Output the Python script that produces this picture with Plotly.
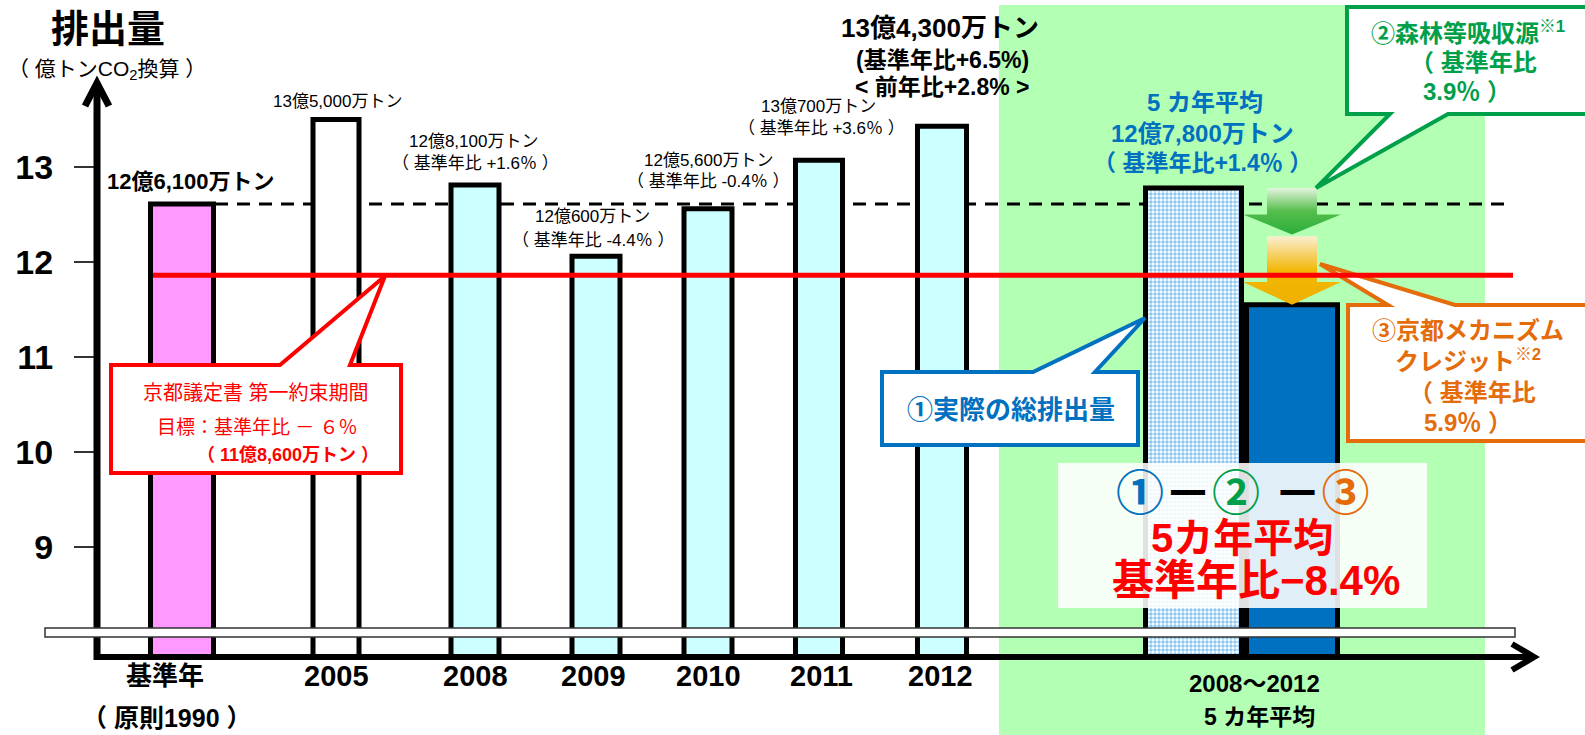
import plotly.graph_objects as go

# ---------------- data ----------------
YEARS = ["基準年", "2005", "2008", "2009", "2010", "2011", "2012"]
YEAR_SUB = ["（ 原則1990 ）", "", "", "", "", "", ""]
EMISSIONS = [12.61, 13.50, 12.81, 12.06, 12.56, 13.07, 13.43]   # 億トンCO2
VALUE_LABELS = ["12億6,100万トン", "13億5,000万トン", "12億8,100万トン", "12億600万トン",
                "12億5,600万トン", "13億700万トン", "13億4,300万トン"]
RATIO_LABELS = ["", "", "（ 基準年比 +1.6％ ）", "（ 基準年比 -4.4％ ）", "（ 基準年比 -0.4％ ）",
                "（ 基準年比 +3.6％ ）", "(基準年比+6.5%)"]
LATEST_EXTRA = "< 前年比+2.8% >"

AVG_LABEL = "2008～2012"
AVG_SUB = "5 カ年平均"
AVG_TOTAL = 12.78        # 5カ年平均 実際の総排出量
AVG_SINK = 0.49          # 森林等吸収源 (基準年比3.9%)
AVG_CREDIT = 0.74        # 京都メカニズムクレジット (基準年比5.9%)
AVG_NET = 11.55          # ①-②-③
TARGET = 11.86           # 京都議定書 目標 (基準年比-6%)
Y_TICKS = [9, 10, 11, 12, 13]

# ---------------- layout constants (pixels) ----------------
W, H = 1585, 735
L, B = 97, 658                 # plot-area left edge / bottom edge in pixels
PX_PER_UNIT, Y12_PIX = 95, 262
BAR_X = [182, 336, 475, 596, 708, 819, 942]
BAR_W = [63, 46, 48, 48, 48, 47, 49]
BAR_COLORS = ["#FF99FF", "#FFFFFF", "#CCFFFF", "#CCFFFF", "#CCFFFF", "#CCFFFF", "#CCFFFF"]
AVG_X, NET_X, AVG_W, NET_W = 1193.5, 1292, 96, 91


def val(p):                       # pixel y -> value
    return 12 + (Y12_PIX - p) / PX_PER_UNIT


def XP(p):
    return (p - L) / (W - L)


def YP(p):
    return (B - p) / B


def PATH(pts, close=True):
    s = "M " + " L ".join(f"{XP(x):.5f},{YP(y):.5f}" for x, y in pts)
    return s + (" Z" if close else "")


FONT = "Liberation Sans, Noto Sans CJK JP, sans-serif"
BLUE, GREEN, ORANGE, RED = "#0070C0", "#00A04A", "#E46C0A", "#FF0000"

fig = go.Figure()

# bars
fig.add_trace(go.Bar(x=BAR_X, y=EMISSIONS, width=BAR_W,
                     marker=dict(color=BAR_COLORS, line=dict(color="black", width=5)),
                     hoverinfo="skip"))
fig.add_trace(go.Bar(x=[AVG_X], y=[AVG_TOTAL], width=[AVG_W],
                     marker=dict(color="#FFFFFF",
                                 pattern=dict(shape=".", fgcolor="#1A8FE0", bgcolor="#FFFFFF",
                                              size=4, solidity=0.6),
                                 line=dict(color="black", width=5)),
                     hoverinfo="skip"))
fig.add_trace(go.Bar(x=[NET_X], y=[AVG_NET], width=[NET_W],
                     marker=dict(color="#0070C0", line=dict(color="black", width=5)),
                     hoverinfo="skip"))


# reduction arrows
def arrow(top, tip, head_len, scale):
    sw, hw = 25, 49
    yh = tip + head_len
    xs = [NET_X - sw, NET_X + sw, NET_X + sw, NET_X + hw, NET_X, NET_X - hw, NET_X - sw, NET_X - sw]
    ys = [top, top, yh, yh, tip, yh, yh, top]
    fig.add_trace(go.Scatter(x=xs, y=ys, mode="lines", line=dict(width=0),
                             fill="toself", fillgradient=dict(type="vertical", colorscale=scale),
                             hoverinfo="skip"))


arrow(AVG_TOTAL, AVG_TOTAL - AVG_SINK, 0.21,
      [[0, "#2AAE3A"], [0.5, "#55BE4C"], [1, "#E6F5E0"]])
arrow(AVG_TOTAL - AVG_SINK - 0.02, AVG_NET, 0.24,
      [[0, "#F0B000"], [0.5, "#F2B705"], [1, "#FAEFD2"]])

shapes = []
# green 5-year background
shapes.append(dict(type="rect", xref="paper", yref="paper", x0=XP(999), x1=XP(1485),
                   y0=YP(735), y1=YP(5), fillcolor="#B3FFB3", line=dict(width=0), layer="below"))
# base-year dashed line
shapes.append(dict(type="line", xref="x", yref="y", x0=215, x1=1510, y0=EMISSIONS[0], y1=EMISSIONS[0],
                   line=dict(color="black", width=3, dash="13px,9px"), layer="below"))


def callout(pts, color):
    shapes.append(dict(type="path", xref="paper", yref="paper", path=PATH(pts),
                       fillcolor="white", line=dict(color=color, width=4)))


callout([(111, 365), (280, 365), (385, 276), (350, 365), (401, 365), (401, 473), (111, 473)], RED)
callout([(882, 372), (1033, 372), (1145, 318), (1095, 372), (1138, 372), (1138, 445), (882, 445)], BLUE)
callout([(1347, 7), (1600, 7), (1600, 114), (1448, 114), (1316, 188), (1390, 114), (1347, 114)], GREEN)
callout([(1348, 305), (1388, 305), (1320, 264), (1455, 305), (1600, 305), (1600, 441), (1348, 441)], ORANGE)

# target line
shapes.append(dict(type="line", xref="x", yref="y", x0=153, x1=1513, y0=TARGET, y1=TARGET,
                   line=dict(color=RED, width=5)))
# translucent result box
shapes.append(dict(type="rect", xref="paper", yref="paper", x0=XP(1058), x1=XP(1427),
                   y0=YP(608), y1=YP(463), fillcolor="rgba(255,255,255,0.88)", line=dict(width=0)))
# axes
shapes.append(dict(type="line", xref="paper", yref="paper", x0=XP(97), x1=XP(97), y0=YP(660), y1=YP(84),
                   line=dict(color="black", width=7)))
shapes.append(dict(type="path", xref="paper", yref="paper", path=PATH([(85, 106), (97, 83), (109, 106)], False),
                   line=dict(color="black", width=7)))
shapes.append(dict(type="line", xref="paper", yref="paper", x0=XP(94), x1=XP(1531), y0=YP(657), y1=YP(657),
                   line=dict(color="black", width=6)))
shapes.append(dict(type="path", xref="paper", yref="paper", path=PATH([(1512, 644), (1534, 657), (1512, 670)], False),
                   line=dict(color="black", width=6)))
# axis break band
shapes.append(dict(type="rect", xref="paper", yref="paper", x0=XP(45), x1=XP(1515), y0=YP(637), y1=YP(628),
                   fillcolor="white", line=dict(color="#333333", width=1.5)))

ann = []


def txt(s, x, y, size, color="black", bold=False, anchor="center"):
    if bold:
        s = "<b>" + s + "</b>"
    ann.append(dict(text=s, x=XP(x), y=YP(y), xref="paper", yref="paper", showarrow=False,
                    xanchor=anchor, yanchor="middle",
                    font=dict(family=FONT, size=size, color=color)))


# axis title
txt("排出量", 108, 29, 38, bold=True)
txt("（ 億トンCO<sub>2</sub>換算 ）", 107, 70, 21)

# value labels
txt(VALUE_LABELS[0], 191, 182, 22, bold=True)
txt(VALUE_LABELS[1], 337, 101, 17)
txt(VALUE_LABELS[2], 473, 142, 17)
txt(RATIO_LABELS[2], 475, 163, 17)
txt(VALUE_LABELS[3], 592, 217, 17)
txt(RATIO_LABELS[3], 593, 240, 17)
txt(VALUE_LABELS[4], 708, 160, 17)
txt(RATIO_LABELS[4], 708, 182, 17)
txt(VALUE_LABELS[5], 818, 106, 17)
txt(RATIO_LABELS[5], 821, 129, 17)
txt(VALUE_LABELS[6], 940, 28, 26, bold=True)
txt(RATIO_LABELS[6], 942, 60, 23, bold=True)
txt(LATEST_EXTRA, 942, 87, 23, bold=True)

# 5-year average label
txt("5 カ年平均", 1205, 103, 24, BLUE, True)
txt("12億7,800万トン", 1202, 133, 24, BLUE, True)
txt("（ 基準年比+1.4％ ）", 1202, 163, 23, BLUE, True)

# callout texts
txt("②森林等吸収源<sup>※1</sup>", 1468, 32, 24, GREEN, True)
txt("（ 基準年比", 1473, 62, 24, GREEN, True)
txt("3.9％ ）", 1467, 92, 24, GREEN, True)
txt("③京都メカニズム", 1468, 330, 24, ORANGE, True)
txt("クレジット<sup>※2</sup>", 1468, 360, 24, ORANGE, True)
txt("（ 基準年比", 1472, 392, 24, ORANGE, True)
txt("5.9％ ）", 1468, 422, 24, ORANGE, True)
txt("①実際の総排出量", 1011, 410, 26, BLUE, True)
txt("京都議定書 第一約束期間", 256, 393, 20, RED)
txt("目標：基準年比 － ６％", 257, 427, 19, RED)
txt("（ 11億8,600万トン ）", 288, 455, 18, RED, True)

# result box
txt(f"<span style='color:{BLUE}'>①</span>－<span style='color:{GREEN}'>②</span> －"
    f"<span style='color:{ORANGE}'>③</span>", 1242, 493, 48, "black", True)
txt("5カ年平均", 1242, 538, 40, RED, True)
txt("基準年比−8.4%", 1256, 580, 42, RED, True)

# category labels
LABEL_X = [165, 336, 475, 593, 708, 821, 940]
for i, lab in enumerate(YEARS):
    txt(lab, LABEL_X[i], 676, 26 if i == 0 else 29, bold=True)
    if YEAR_SUB[i]:
        txt(YEAR_SUB[i], 167, 718, 25, bold=True)
txt(AVG_LABEL, 1254, 683, 24, bold=True)
txt(AVG_SUB, 1259, 717, 23, bold=True)

fig.update_layout(
    width=W, height=H, autosize=False,
    margin=dict(l=L, r=0, t=0, b=H - B, pad=0),
    paper_bgcolor="white", plot_bgcolor="rgba(0,0,0,0)",
    showlegend=False, barmode="overlay",
    shapes=shapes, annotations=ann,
    xaxis=dict(range=[L, W], visible=False, fixedrange=True),
    yaxis=dict(range=[val(B), val(0)], tickvals=Y_TICKS, ticks="outside", ticklen=22,
               tickwidth=1.5, tickcolor="#333333", showgrid=False, zeroline=False, showline=False,
               tickfont=dict(family="Liberation Sans", size=34, color="black", weight="bold"),
               ticklabelstandoff=14, fixedrange=True),
)

fig.write_html("out.html", config={"displayModeBar": False},
               post_script="document.body.style.margin='0px';document.body.style.overflow='hidden';")
